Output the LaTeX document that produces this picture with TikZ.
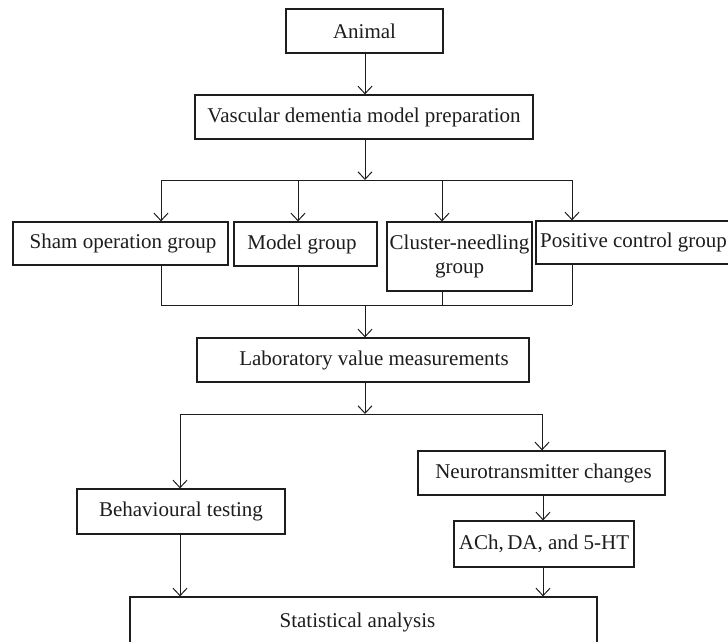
\documentclass[tikz,border=0pt]{standalone}
\usepackage{fontspec}
\setmainfont{Liberation Serif}
\usetikzlibrary{arrows.meta}
\definecolor{ink}{RGB}{30,28,29}
\tikzset{
  box/.style={draw=ink, line width=1.2pt, inner sep=0pt, text=ink,
    font=\fontsize{21}{23.5}\selectfont, align=center},
  conn/.style={draw=ink, line width=1pt},
  arr/.style={conn, -{Straight Barb[length=7.5pt,width=14pt,line width=1pt]}}
}
\begin{document}
\begin{tikzpicture}[x=1pt,y=-1pt]
\useasboundingbox (0,0) rectangle (728,641);
\clip (0,0) rectangle (728,641);
\fill[white] (0,0) rectangle (728,641);
% nodes
\node[box, minimum width=157, minimum height=44] (animal) at (364.5,31) {Animal};
\node[box, minimum width=338, minimum height=44] (vasc) at (364,117) {Vascular dementia model preparation};
\node[box, minimum width=215, minimum height=43] (sham) at (120.5,243.5) {\hspace*{5pt}Sham operation group};
\node[box, minimum width=143, minimum height=44] (model) at (305.5,244) {Model group\hspace*{7pt}};
\node[box, minimum width=145, minimum height=69] (cluster) at (459.5,256.5) {Cluster-needling\\group};
\node[box, minimum width=195, minimum height=43] (positive) at (633.5,242.5) {Positive control group};
\node[box, minimum width=332, minimum height=44] (lab) at (363,360) {\hspace*{22pt}Laboratory value measurements};
\node[box, minimum width=208, minimum height=45] (behav) at (181,511.5) {Behavioural testing};
\node[box, minimum width=247, minimum height=44] (neuro) at (541.5,473) {\hspace*{4pt}Neurotransmitter changes};
\node[box, minimum width=180, minimum height=46] (ach) at (544,544) {ACh,\,DA, and 5-HT};
\node[box, minimum width=467, minimum height=50] (stat) at (363.5,622) {Statistical analysis\hspace*{12pt}};
% coordinates
\coordinate (s1) at (365,180);
\coordinate (s1a) at (161,180);
\coordinate (s1b) at (298,180);
\coordinate (s1c) at (442,180);
\coordinate (s1d) at (572,180);
\coordinate (j1) at (365,305);
\coordinate (j1a) at (161,305);
\coordinate (j1b) at (298,305);
\coordinate (j1c) at (442,305);
\coordinate (j1d) at (572,305);
\coordinate (s2) at (365,414);
\coordinate (s2L) at (180,414);
\coordinate (s2R) at (542,414);
\coordinate (c3) at (543,0);
% connectors
\draw[arr] (animal.south -| s1) -- (vasc.north -| s1);
\draw[arr] (vasc.south -| s1) -- (s1);
\draw[conn] (s1a) -- (s1d);
\draw[arr] (s1a) -- (s1a |- sham.north);
\draw[arr] (s1b) -- (s1b |- model.north);
\draw[arr] (s1c) -- (s1c |- cluster.north);
\draw[arr] (s1d) -- (s1d |- positive.north);
\draw[conn] (j1a |- sham.south) -- (j1a);
\draw[conn] (j1b |- model.south) -- (j1b);
\draw[conn] (j1c |- cluster.south) -- (j1c);
\draw[conn] (j1d |- positive.south) -- (j1d);
\draw[conn] (j1a) -- (j1d);
\draw[arr] (j1) -- (j1 |- lab.north);
\draw[arr] (lab.south -| s2) -- (s2);
\draw[conn] (s2L) -- (s2R);
\draw[arr] (s2L) -- (s2L |- behav.north);
\draw[arr] (s2R) -- (s2R |- neuro.north);
\draw[arr] (neuro.south -| c3) -- (ach.north -| c3);
\draw[arr] (behav.south -| s2L) -- (stat.north -| s2L);
\draw[arr] (ach.south -| c3) -- (stat.north -| c3);
\end{tikzpicture}
\end{document}
